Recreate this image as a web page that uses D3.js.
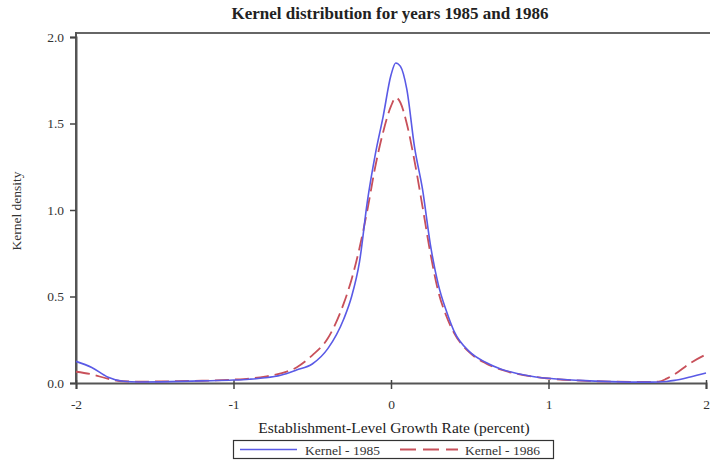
<!DOCTYPE html>
<html><head><meta charset="utf-8">
<script src="https://cdn.jsdelivr.net/npm/d3@7"></script>
<style>body{margin:0;background:#fff}svg{display:block}svg text{font-family:"Liberation Serif","DejaVu Serif",serif}</style>
</head><body>
<svg id="c" width="710" height="463"></svg>
<script>
const xVals = [-2,-1.9,-1.8,-1.7,-1.6,-1.4,-1.2,-1.0,-0.9,-0.8,-0.7,-0.6,-0.5,-0.4,-0.3,-0.25,-0.2,-0.15,-0.1,-0.05,0,0.03,0.06,0.1,0.15,0.2,0.25,0.3,0.35,0.4,0.5,0.6,0.7,0.8,0.9,1.0,1.2,1.4,1.6,1.7,1.75,1.8,1.9,2.0];
const kernel1985 = [0.125,0.09,0.035,0.01,0.006,0.008,0.012,0.017,0.022,0.03,0.045,0.075,0.11,0.2,0.37,0.5,0.7,1.05,1.32,1.54,1.78,1.85,1.83,1.7,1.36,1.12,0.8,0.57,0.42,0.3,0.18,0.12,0.08,0.055,0.038,0.027,0.015,0.008,0.005,0.006,0.009,0.015,0.035,0.058];
const kernel1986 = [0.065,0.05,0.025,0.01,0.008,0.01,0.013,0.02,0.026,0.037,0.055,0.09,0.16,0.26,0.46,0.6,0.78,1.0,1.25,1.45,1.6,1.65,1.62,1.5,1.28,1.02,0.75,0.53,0.39,0.29,0.175,0.115,0.077,0.053,0.037,0.026,0.014,0.008,0.006,0.008,0.025,0.05,0.115,0.165];
const xTicks = [-2,-1,0,1,2];
const yTicks = [0,0.5,1.0,1.5,2.0];
const seriesNames = ["Kernel - 1985","Kernel - 1986"];
const titleText = "Kernel distribution for years 1985 and 1986";
const xLabel = "Establishment-Level Growth Rate (percent)";
const yLabel = "Kernel density";

(function(){
const svg = d3.select("#c");
const pLeft = 76, pRight = 706, pTop = 37, pBottom = 383;
const x = d3.scaleLinear().domain([-2,2]).range([pLeft,pRight]);
const y = d3.scaleLinear().domain([0,2]).range([pBottom,pTop]);

svg.append("text").attr("x",390).attr("y",19).attr("text-anchor","middle")
  .attr("font-weight","bold").attr("font-size",17).attr("fill","#222").text(titleText);

svg.append("line").attr("x1",pLeft).attr("x2",710).attr("y1",33).attr("y2",33)
  .attr("stroke","#666").attr("stroke-width",2);
svg.append("line").attr("x1",pLeft).attr("x2",pLeft).attr("y1",32).attr("y2",pBottom)
  .attr("stroke","#555").attr("stroke-width",2);

const yAxis = svg.append("g").attr("transform",`translate(${pLeft},0)`)
  .call(d3.axisLeft(y).tickValues(yTicks).tickFormat(d3.format(".1f")).tickSize(6).tickPadding(6));
const xAxis = svg.append("g").attr("transform",`translate(0,${pBottom})`)
  .call(d3.axisBottom(x).tickValues(xTicks).tickFormat(d3.format("d")).tickSize(6).tickPadding(10));
[yAxis,xAxis].forEach(g=>{
  g.attr("font-family",null);
  g.select(".domain").attr("stroke","#555").attr("stroke-width",2);
  g.selectAll(".tick line").attr("stroke","#444").attr("stroke-width",1.5);
  g.selectAll(".tick text").attr("font-size",13.5).attr("fill","#333");
});
xAxis.selectAll(".tick line").attr("y1",-3);
xAxis.selectAll(".tick text").text(d=> d<0 ? "-"+Math.abs(d) : d);

svg.append("text").attr("x",394).attr("y",433).attr("text-anchor","middle")
  .attr("font-size",15.5).attr("fill","#222").text(xLabel);
svg.append("text").attr("transform","translate(21,211) rotate(-90)").attr("text-anchor","middle")
  .attr("font-size",13.5).attr("fill","#333").text(yLabel);

const line = d3.line().curve(d3.curveMonotoneX);
const pts = v => xVals.map((d,i)=>[x(d), y(v[i])]);
const blue = "#5a5ae6", red = "#c8505a";
svg.append("path").attr("d",line(pts(kernel1986))).attr("fill","none")
  .attr("stroke",red).attr("stroke-width",1.8).attr("stroke-dasharray","14,6");
svg.append("path").attr("d",line(pts(kernel1985))).attr("fill","none")
  .attr("stroke",blue).attr("stroke-width",1.6);

const lg = svg.append("g");
lg.append("rect").attr("x",233.5).attr("y",440.5).attr("width",320).attr("height",18)
  .attr("fill","#fff").attr("stroke","#333").attr("stroke-width",1.2);
lg.append("line").attr("x1",240).attr("x2",297).attr("y1",449.5).attr("y2",449.5).attr("stroke",blue).attr("stroke-width",1.6);
lg.append("text").attr("x",305).attr("y",454.5).attr("font-size",13.5).attr("fill","#333").text(seriesNames[0]);
lg.append("line").attr("x1",400).attr("x2",458).attr("y1",449.5).attr("y2",449.5).attr("stroke",red).attr("stroke-width",1.8).attr("stroke-dasharray","16,7");
lg.append("text").attr("x",465).attr("y",454.5).attr("font-size",13.5).attr("fill","#333").text(seriesNames[1]);
})();
</script>
</body></html>
